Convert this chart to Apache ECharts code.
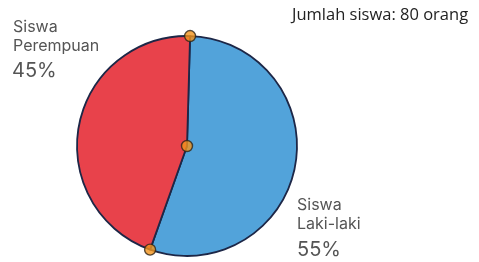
<!DOCTYPE html>
<html><head><meta charset="utf-8">
<script src="https://cdn.jsdelivr.net/npm/echarts@6/dist/echarts.min.js"></script>
<style>html,body{margin:0;padding:0;background:#fff}#c{width:479px;height:262px}</style>
</head><body><div id="c"></div>
<script>
const categories = ['Siswa\nLaki-laki', 'Siswa\nPerempuan'];
const values = [55, 45];
const colors = ['#52a3da', '#e8424b'];
const totalLabel = 'Jumlah siswa: 80 orang';

const total = values.reduce((a, b) => a + b, 0);
const pcts = values.map(v => Math.round(v / total * 100) + '%');
let cum = 0;
const dots = [[1, 0]];
values.forEach((v, i) => { cum += v; if (i < values.length - 1) dots.push([1, cum]); });
dots.push([0, 0]);

const CENTER = [187, 146], R = 110, START = 88.4;
const chart = echarts.init(document.getElementById('c'));
const labelFont = 'Inter, Roboto, sans-serif';
chart.setOption({
  animation: false,
  polar: { center: CENTER, radius: R },
  angleAxis: { type: 'value', min: 0, max: total, startAngle: START, clockwise: true, show: false },
  radiusAxis: { type: 'value', min: 0, max: 1, show: false },
  series: [
    {
      type: 'pie', center: CENTER, radius: R, startAngle: START, clockwise: true,
      label: { show: false }, labelLine: { show: false }, silent: true,
      itemStyle: { borderColor: '#1d2747', borderWidth: 1.8 },
      data: categories.map((c, i) => ({ name: c, value: values[i], itemStyle: { color: colors[i] } }))
    },
    {
      type: 'scatter', coordinateSystem: 'polar', symbolSize: 11, silent: true, z: 10,
      itemStyle: { color: '#f3941c', borderColor: '#2e2418', borderWidth: 1.4 },
      data: dots
    }
  ],
  graphic: [
    { type: 'text', left: 292, top: 7, style: { text: totalLabel, fontSize: 16.5, fill: '#222', fontFamily: '"Open Sans", sans-serif' } },
    { type: 'text', left: 13, top: 18, style: { text: categories[1], fontSize: 16, lineHeight: 19, fill: '#555', fontFamily: labelFont } },
    { type: 'text', left: 12, top: 61, style: { text: pcts[1], fontSize: 20, fill: '#555', fontFamily: labelFont } },
    { type: 'text', left: 297, top: 196, style: { text: categories[0], fontSize: 16, lineHeight: 19, fill: '#555', fontFamily: labelFont } },
    { type: 'text', left: 297, top: 240, style: { text: pcts[0], fontSize: 20, fill: '#555', fontFamily: labelFont } }
  ]
});
</script></body></html>
